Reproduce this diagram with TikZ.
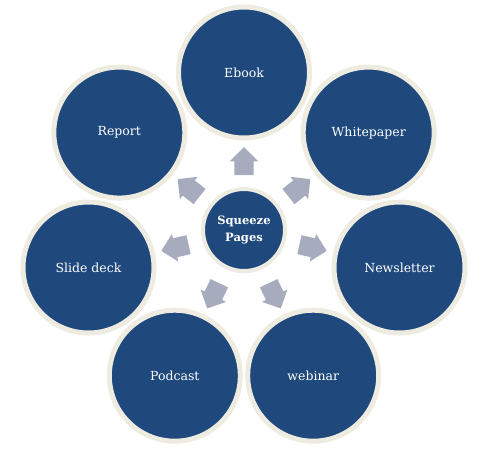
\documentclass[tikz,border=0pt]{standalone}
\usepackage{fontspec}
\setmainfont{DejaVu Serif}
\usepackage{xcolor}
\definecolor{azulOscuro}{RGB}{31, 73, 125}
\definecolor{crema}{RGB}{238, 236, 225}
\definecolor{grisAzul}{RGB}{166, 172, 190}
\usetikzlibrary{shapes,shapes.arrows,shadows,calc}
\tikzstyle{outer} =[circle, fill=azulOscuro, draw=crema,
                    line width=5pt, minimum size=131pt,
                    inner sep=0pt, text=white,
                    font=\fontsize{12.5}{15}\selectfont,
                    drop shadow={shadow xshift=0pt, shadow yshift=-2pt,
                                 opacity=0.18, fill=black!70}]
\tikzstyle{hub}   =[circle, fill=azulOscuro, draw=crema,
                    line width=4pt, minimum size=82pt,
                    inner sep=0pt, text=white, align=center,
                    font=\fontsize{11.5}{17}\selectfont\bfseries,
                    drop shadow={shadow xshift=0pt, shadow yshift=-2pt,
                                 opacity=0.18, fill=black!70}]
\tikzstyle{pointer}=[single arrow, fill=grisAzul, draw=none,
                    minimum height=28pt, inner xsep=0pt,
                    inner ysep=9.5pt, text height=0pt, text depth=0pt,
                    single arrow head extend=4.5pt]

\begin{document}
\begin{tikzpicture}[x=1pt,y=-1pt]
    \useasboundingbox (0,0) rectangle (485,453);
    \coordinate (c) at (244,232);

    % outer ring, clockwise from the top
    \foreach \a/\nombre/\texto in {90/ebook/Ebook,
                                   38.57/whitepaper/Whitepaper,
                                   -12.86/newsletter/Newsletter,
                                   -64.29/webinar/webinar,
                                   -115.71/podcast/Podcast,
                                   -167.14/slidedeck/Slide deck,
                                   141.43/report/Report}
    {
        \node (\nombre) [outer] at ($(c)+({159.5*cos(\a)},{-159.5*sin(\a)})$) {\texto};
        \node (flecha-\nombre) [pointer, rotate=\a] at ($(c)+({66*cos(\a)},{-66*sin(\a)})$) {};
    }

    \node (squeeze) [hub] at (244,230) {Squeeze\\Pages};
\end{tikzpicture}
\end{document}
